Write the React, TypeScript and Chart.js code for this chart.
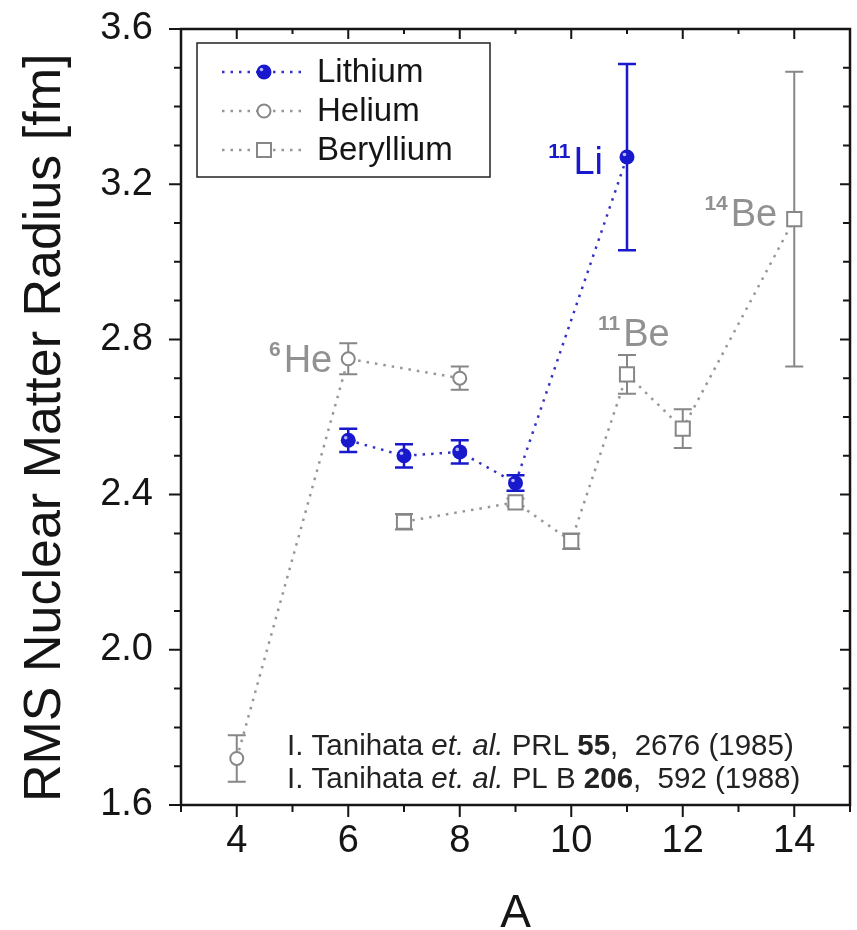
import React, { useEffect, useRef } from "react";
import { Chart, registerables } from "chart.js";

Chart.register(...registerables);

// ---- data ----
const LI_A = [6, 7, 8, 9, 11];
const LI_R = [2.54, 2.5, 2.51, 2.43, 3.27];
const LI_ERR = [0.03, 0.03, 0.03, 0.02, 0.24];

const HE_A = [4, 6, 8];
const HE_R = [1.72, 2.75, 2.7];
const HE_ERR = [0.06, 0.04, 0.03];

const BE_A = [7, 9, 10, 11, 12, 14];
const BE_R = [2.33, 2.38, 2.28, 2.71, 2.57, 3.11];
const BE_ERR = [0.02, 0.01, 0.02, 0.05, 0.05, 0.38];

const SERIES_NAMES = ["Lithium", "Helium", "Beryllium"];

const X_TICKS = [4, 6, 8, 10, 12, 14];
const X_MINOR = [3, 5, 7, 9, 11, 13, 15];
const Y_TICKS = [1.6, 2.0, 2.4, 2.8, 3.2, 3.6];
const Y_MINOR = [1.7, 1.8, 1.9, 2.1, 2.2, 2.3, 2.5, 2.6, 2.7, 2.9, 3.0, 3.1, 3.3, 3.4, 3.5];

const X_TITLE = "A";
const Y_TITLE = "RMS Nuclear Matter Radius [fm]";

// isotope labels: superscript, element, series index, A value
const ISO_SUP = ["11", "14", "11", "6"];
const ISO_EL = ["Li", "Be", "Be", "He"];
const ISO_SERIES = [0, 2, 2, 1];
const ISO_A = [11, 14, 11, 6];

const CITATION_1: [string, string][] = [
  ["I. Tanihata ", ""],
  ["et. al.", "italic"],
  [" PRL ", ""],
  ["55", "bold"],
  [",  2676 (1985)", ""],
];
const CITATION_2: [string, string][] = [
  ["I. Tanihata ", ""],
  ["et. al.", "italic"],
  [" PL B ", ""],
  ["206", "bold"],
  [",  592 (1988)", ""],
];

const FONT = "'Liberation Sans', Arial, Helvetica, sans-serif";
const BLUE = "rgb(24,24,205)";
const BLUE_LINE = "rgb(50,50,200)";
const GRAY = "rgb(135,135,135)";
const GRAY_LINE = "rgb(150,150,150)";
const LABEL_GRAY = "rgb(145,145,145)";
const INK = "#151515";

export default function App() {
  const ref = useRef<HTMLCanvasElement>(null);

  useEffect(() => {
    const canvas = ref.current;
    if (!canvas) return;

    const seriesA = [LI_A, HE_A, BE_A];
    const seriesR = [LI_R, HE_R, BE_R];
    const seriesErr = [LI_ERR, HE_ERR, BE_ERR];
    const errColors = [BLUE, GRAY, GRAY];

    const toPts = (a: number[], r: number[]) => a.map((v, i) => ({ x: v, y: r[i] }));

    const zeroPad = (s: any) => {
      s.paddingTop = 0;
      s.paddingBottom = 0;
      s.paddingLeft = 0;
      s.paddingRight = 0;
      s.getPadding = () => ({ left: 0, top: 0, right: 0, bottom: 0 });
    };

    const errorBars = {
      id: "errorBars",
      beforeDatasetsDraw(chart: any) {
        const ctx = chart.ctx;
        const xs = chart.scales.x;
        const ys = chart.scales.y;
        for (let i = 0; i < 3; i++) {
          ctx.save();
          ctx.strokeStyle = errColors[i];
          ctx.lineWidth = i === 0 ? 2.5 : 2;
          seriesA[i].forEach((a, j) => {
            const px = xs.getPixelForValue(a);
            const t = ys.getPixelForValue(seriesR[i][j] + seriesErr[i][j]);
            const b = ys.getPixelForValue(seriesR[i][j] - seriesErr[i][j]);
            ctx.beginPath();
            ctx.moveTo(px, t);
            ctx.lineTo(px, b);
            ctx.moveTo(px - 9, t);
            ctx.lineTo(px + 9, t);
            ctx.moveTo(px - 9, b);
            ctx.lineTo(px + 9, b);
            ctx.stroke();
          });
          ctx.restore();
        }
      },
      afterDatasetsDraw(chart: any) {
        const ctx = chart.ctx;
        const meta = chart.getDatasetMeta(0);
        ctx.save();
        meta.data.forEach((el: any) => {
          ctx.fillStyle = "rgba(200,200,255,0.9)";
          ctx.beginPath();
          ctx.arc(el.x - 2.5, el.y - 2.5, 1.8, 0, Math.PI * 2);
          ctx.fill();
        });
        ctx.restore();
      },
    };

    const drawMarker = (ctx: CanvasRenderingContext2D, kind: number, x: number, y: number) => {
      ctx.save();
      if (kind === 0) {
        ctx.fillStyle = BLUE;
        ctx.beginPath();
        ctx.arc(x, y, 7.5, 0, Math.PI * 2);
        ctx.fill();
        ctx.fillStyle = "rgba(200,200,255,0.9)";
        ctx.beginPath();
        ctx.arc(x - 2.5, y - 2.5, 1.8, 0, Math.PI * 2);
        ctx.fill();
      } else if (kind === 1) {
        ctx.fillStyle = "#fff";
        ctx.strokeStyle = GRAY;
        ctx.lineWidth = 2;
        ctx.beginPath();
        ctx.arc(x, y, 6.5, 0, Math.PI * 2);
        ctx.fill();
        ctx.stroke();
      } else {
        ctx.fillStyle = "#fff";
        ctx.strokeStyle = GRAY;
        ctx.lineWidth = 2;
        ctx.fillRect(x - 7, y - 7, 14, 14);
        ctx.strokeRect(x - 7, y - 7, 14, 14);
      }
      ctx.restore();
    };

    const decorations = {
      id: "decorations",
      afterDraw(chart: any) {
        const ctx: CanvasRenderingContext2D = chart.ctx;
        const { left, right, top, bottom } = chart.chartArea;
        const xs = chart.scales.x;
        const ys = chart.scales.y;
        ctx.save();
        ctx.strokeStyle = INK;

        // frame
        ctx.lineWidth = 2.5;
        ctx.strokeRect(left, top, right - left, bottom - top);

        // ticks
        ctx.lineWidth = 2;
        ctx.beginPath();
        Y_TICKS.forEach((v) => {
          const p = ys.getPixelForValue(v);
          ctx.moveTo(left - 12, p);
          ctx.lineTo(left, p);
          ctx.moveTo(right - 10, p);
          ctx.lineTo(right, p);
        });
        Y_MINOR.forEach((v) => {
          const p = ys.getPixelForValue(v);
          ctx.moveTo(left - 7, p);
          ctx.lineTo(left, p);
          ctx.moveTo(right - 7, p);
          ctx.lineTo(right, p);
        });
        X_TICKS.forEach((v) => {
          const p = xs.getPixelForValue(v);
          ctx.moveTo(p, bottom);
          ctx.lineTo(p, bottom + 12);
          ctx.moveTo(p, top);
          ctx.lineTo(p, top + 10);
        });
        X_MINOR.forEach((v) => {
          const p = xs.getPixelForValue(v);
          ctx.moveTo(p, bottom);
          ctx.lineTo(p, bottom + 7);
          ctx.moveTo(p, top);
          ctx.lineTo(p, top + 5);
        });
        ctx.stroke();

        // axis titles
        ctx.fillStyle = INK;
        ctx.font = `46px ${FONT}`;
        ctx.textAlign = "center";
        ctx.textBaseline = "alphabetic";
        ctx.fillText(X_TITLE, (left + right) / 2, 927);

        ctx.save();
        ctx.translate(60, bottom - 3);
        ctx.rotate(-Math.PI / 2);
        ctx.textAlign = "left";
        ctx.font = `52px ${FONT}`;
        ctx.fillText(Y_TITLE, 0, 0);
        ctx.restore();

        // legend
        const lx = left + 16;
        const ly = top + 14;
        ctx.fillStyle = "#fff";
        ctx.fillRect(lx, ly, 293, 134);
        ctx.lineWidth = 1.5;
        ctx.strokeStyle = "#222";
        ctx.strokeRect(lx, ly, 293, 134);
        SERIES_NAMES.forEach((name, i) => {
          const yy = ly + 29 + i * 39;
          ctx.save();
          ctx.strokeStyle = i === 0 ? BLUE_LINE : GRAY_LINE;
          ctx.lineWidth = 2.5;
          ctx.setLineDash([2.5, 6]);
          ctx.beginPath();
          ctx.moveTo(lx + 25, yy);
          ctx.lineTo(lx + 108, yy);
          ctx.stroke();
          ctx.restore();
          drawMarker(ctx, i, lx + 67, yy);
          ctx.fillStyle = INK;
          ctx.font = `33px ${FONT}`;
          ctx.textAlign = "left";
          ctx.textBaseline = "middle";
          ctx.fillText(name, lx + 120, yy + 1);
        });

        // isotope labels
        const isoStyle = [
          { align: "right", dx: -24, dy: 17, color: BLUE },
          { align: "right", dx: -17, dy: 7, color: LABEL_GRAY },
          { align: "left", dx: -29, dy: -28, color: LABEL_GRAY },
          { align: "right", dx: -16, dy: 13, color: LABEL_GRAY },
        ];
        ctx.textBaseline = "alphabetic";
        ctx.textAlign = "left";
        ISO_EL.forEach((el, i) => {
          const s = ISO_SERIES[i];
          const idx = seriesA[s].indexOf(ISO_A[i]);
          const px = xs.getPixelForValue(ISO_A[i]);
          const py = ys.getPixelForValue(seriesR[s][idx]);
          const st = isoStyle[i];
          ctx.font = `bold 21px ${FONT}`;
          const sw = ctx.measureText(ISO_SUP[i]).width;
          ctx.font = `38px ${FONT}`;
          const ew = ctx.measureText(el).width;
          const gap = 3;
          const total = sw + gap + ew;
          const x0 = st.align === "right" ? px + st.dx - total : px + st.dx;
          const base = py + st.dy;
          ctx.fillStyle = st.color;
          ctx.font = `bold 21px ${FONT}`;
          ctx.fillText(ISO_SUP[i], x0, base - 16);
          ctx.font = `38px ${FONT}`;
          ctx.fillText(el, x0 + sw + gap, base);
        });

        // citations
        const drawRich = (segs: [string, string][], x: number, y: number) => {
          let cx = x;
          segs.forEach(([t, style]) => {
            ctx.font = `${style === "italic" ? "italic " : ""}${style === "bold" ? "bold " : ""}29.5px ${FONT}`;
            ctx.fillText(t, cx, y);
            cx += ctx.measureText(t).width;
          });
        };
        ctx.fillStyle = "#222";
        drawRich(CITATION_1, 287, 755);
        drawRich(CITATION_2, 287, 788);

        ctx.restore();
      },
    };

    const chart = new Chart(canvas, {
      type: "scatter",
      data: {
        datasets: [
          {
            label: SERIES_NAMES[0],
            data: toPts(LI_A, LI_R),
            showLine: true,
            borderColor: BLUE_LINE,
            borderWidth: 2.5,
            borderDash: [2.5, 6],
            pointStyle: "circle",
            pointRadius: 7.5,
            pointBackgroundColor: BLUE,
            pointBorderColor: BLUE,
            pointBorderWidth: 0,
          },
          {
            label: SERIES_NAMES[1],
            data: toPts(HE_A, HE_R),
            showLine: true,
            borderColor: GRAY_LINE,
            borderWidth: 2.5,
            borderDash: [2.5, 6],
            pointStyle: "circle",
            pointRadius: 6.5,
            pointBackgroundColor: "#fff",
            pointBorderColor: GRAY,
            pointBorderWidth: 2,
          },
          {
            label: SERIES_NAMES[2],
            data: toPts(BE_A, BE_R),
            showLine: true,
            borderColor: GRAY_LINE,
            borderWidth: 2.5,
            borderDash: [2.5, 6],
            pointStyle: "rect",
            pointRadius: 10,
            pointBackgroundColor: "#fff",
            pointBorderColor: GRAY,
            pointBorderWidth: 2,
          },
        ],
      },
      options: {
        animation: false,
        responsive: false,
        events: [],
        layout: { autoPadding: false, padding: { top: 29, right: 7, left: 0, bottom: 0 } },
        plugins: { legend: { display: false }, tooltip: { enabled: false } },
        scales: {
          x: {
            type: "linear",
            min: 3,
            max: 15,
            afterFit(s: any) {
              s.height = 125;
              zeroPad(s);
            },
            afterBuildTicks(s: any) {
              s.ticks = X_TICKS.map((v) => ({ value: v }));
            },
            grid: { display: false, drawTicks: false },
            border: { display: false },
            ticks: {
              font: { family: FONT, size: 38 },
              color: INK,
              padding: 14,
              maxRotation: 0,
              autoSkip: false,
            },
          },
          y: {
            type: "linear",
            min: 1.6,
            max: 3.6,
            afterFit(s: any) {
              s.width = 181;
              zeroPad(s);
            },
            afterBuildTicks(s: any) {
              s.ticks = Y_TICKS.map((v) => ({ value: v }));
            },
            grid: { display: false, drawTicks: false },
            border: { display: false },
            ticks: {
              font: { family: FONT, size: 38 },
              color: INK,
              padding: 28,
              autoSkip: false,
              callback: (v: any) => Number(v).toFixed(1),
            },
          },
        },
      },
      plugins: [errorBars, decorations],
    } as any);

    return () => chart.destroy();
  }, []);

  return (
    <div style={{ position: "absolute", left: 0, top: 0, width: 857, height: 930, background: "#fff" }}>
      <canvas ref={ref} width={857} height={930} style={{ width: 857, height: 930, display: "block" }} />
    </div>
  );
}
